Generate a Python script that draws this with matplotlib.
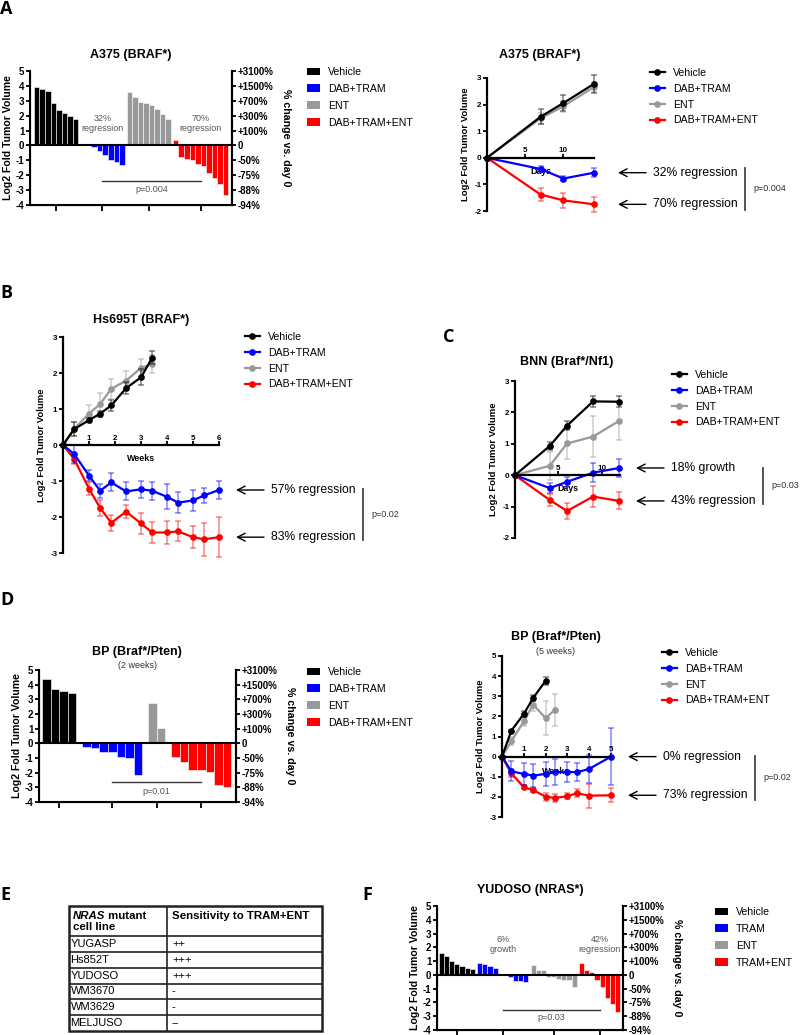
import numpy as np
import matplotlib
matplotlib.use("Agg")
import matplotlib.pyplot as plt
from matplotlib.patches import Patch, Rectangle
from matplotlib.lines import Line2D
from matplotlib.transforms import ScaledTranslation, blended_transform_factory

plt.rcParams['font.family'] = ['Liberation Sans', 'DejaVu Sans']
plt.rcParams['axes.unicode_minus'] = False

# ---------------- data ----------------
groups_braf = ['Vehicle', 'DAB+TRAM', 'ENT', 'DAB+TRAM+ENT']
groups_nras = ['Vehicle', 'TRAM', 'ENT', 'TRAM+ENT']
colors = ['#000000', '#0000ff', '#999999', '#ff0000']
pct_labels = ['-94%', '-88%', '-75%', '-50%', '0', '+100%', '+300%', '+700%', '+1500%', '+3100%']

# A: A375 waterfall (log2 fold change per tumor)
a_veh = [3.95, 3.8, 3.65, 2.85, 2.35, 2.15, 2.0, 1.75]
a_dt = [0.05, 0.0, -0.08, -0.36, -0.63, -0.96, -1.14, -1.3]
a_ent = [3.6, 3.25, 2.9, 2.85, 2.7, 2.45, 2.1, 1.75]
a_combo = [0.35, -0.76, -0.9, -0.98, -1.27, -1.39, -1.88, -2.21, -2.62, -3.36]

# A: A375 growth curves
a_days = [0, 7, 10, 14]
a_veh_mean = [0, 1.54, 2.06, 2.78]
a_veh_err = [0, 0.28, 0.3, 0.33]
a_dt_mean = [0, -0.42, -0.78, -0.56]
a_dt_err = [0, 0.1, 0.1, 0.18]
a_ent_mean = [0, 1.48, 1.94, 2.66]
a_ent_err = [0, 0.2, 0.2, 0.2]
a_combo_mean = [0, -1.38, -1.6, -1.75]
a_combo_err = [0, 0.25, 0.27, 0.28]

# B: Hs695T growth curves
b_days_ctrl = [0, 3, 7, 10, 13, 17, 21, 24]
b_days_tx = [0, 3, 7, 10, 13, 17, 21, 24, 28, 31, 35, 38, 42]
b_veh_mean = [0, 0.44, 0.69, 0.87, 1.1, 1.58, 1.88, 2.42]
b_veh_err = [0, 0.2, 0.05, 0.08, 0.15, 0.17, 0.22, 0.18]
b_ent_mean = [0, 0.45, 0.87, 1.14, 1.56, 1.79, 2.14, 2.25]
b_ent_err = [0, 0.2, 0.25, 0.3, 0.27, 0.27, 0.25, 0.25]
b_dt_mean = [0, -0.25, -0.85, -1.27, -1.04, -1.29, -1.23, -1.27, -1.44, -1.6, -1.54, -1.4, -1.25]
b_dt_err = [0, 0.25, 0.15, 0.2, 0.25, 0.25, 0.23, 0.25, 0.35, 0.3, 0.28, 0.2, 0.25]
b_combo_mean = [0, -0.39, -1.21, -1.75, -2.16, -1.85, -2.18, -2.43, -2.43, -2.4, -2.56, -2.62, -2.56]
b_combo_err = [0, 0.15, 0.17, 0.23, 0.22, 0.17, 0.28, 0.3, 0.32, 0.28, 0.3, 0.45, 0.55]

# C: BNN growth curves
c_days = [0, 4, 6, 9, 12]
c_veh_mean = [0, 0.93, 1.58, 2.35, 2.34]
c_veh_err = [0, 0.12, 0.15, 0.17, 0.17]
c_ent_mean = [0, 0.3, 1.01, 1.23, 1.73]
c_ent_err = [0, 0.45, 0.48, 0.65, 0.6]
c_dt_mean = [0, -0.41, -0.21, 0.08, 0.23]
c_dt_err = [0, 0.15, 0.15, 0.3, 0.28]
c_combo_mean = [0, -0.79, -1.14, -0.68, -0.82]
c_combo_err = [0, 0.2, 0.25, 0.33, 0.27]

# D: BP waterfall (2 weeks)
d_veh = [4.4, 3.7, 3.55, 3.45]
d_dt = [-0.28, -0.32, -0.58, -0.62, -0.95, -0.97, -2.18]
d_ent = [2.75, 1.05]
d_combo = [-0.95, -1.25, -1.8, -1.85, -1.95, -2.85, -3.0]

# D: BP growth curves (5 weeks)
d_days_ctrl = [0, 3, 7, 10, 14]
d_days_ent = [0, 3, 7, 10, 14, 17]
d_days_tx = [0, 3, 7, 10, 14, 17, 21, 24, 28, 35]
d_veh_mean = [0, 1.29, 2.12, 2.91, 3.77]
d_veh_err = [0, 0.05, 0.15, 0.15, 0.2]
d_ent_mean = [0, 0.76, 1.75, 2.58, 1.92, 2.32]
d_ent_err = [0, 0.2, 0.25, 0.3, 0.85, 0.8]
d_dt_mean = [0, -0.73, -0.86, -0.94, -0.86, -0.78, -0.75, -0.78, -0.61, 0.0]
d_dt_err = [0, 0.5, 0.55, 0.55, 0.6, 0.65, 0.5, 0.45, 0.7, 1.42]
d_combo_mean = [0, -0.83, -1.52, -1.66, -1.99, -2.05, -1.97, -1.82, -1.94, -1.92]
d_combo_err = [0, 0.2, 0.1, 0.1, 0.2, 0.2, 0.15, 0.2, 0.6, 0.35]

# E: table
cell_lines = ['YUGASP', 'Hs852T', 'YUDOSO', 'WM3670', 'WM3629', 'MELJUSO']
sensitivity = ['++', '+++', '+++', '-', '-', '--']

# F: YUDOSO waterfall
f_veh = [1.6, 1.38, 1.0, 0.8, 0.65, 0.5, 0.4]
f_tram = [0.85, 0.8, 0.68, 0.5, 0.0, -0.03, -0.17, -0.41, -0.43, -0.53]
f_ent = [0.75, 0.39, 0.39, -0.12, -0.15, -0.33, -0.35, -0.36, -0.85]
f_combo = [0.85, 0.36, 0.19, -0.34, -0.9, -1.67, -2.1, -2.66]

# ---------------- figure ----------------
W, H = 800, 1035
fig = plt.figure(figsize=(W / 100, H / 100), dpi=100)


def px_axes(x0, y0, x1, y1):
    return fig.add_axes([x0 / W, 1 - y1 / H, (x1 - x0) / W, (y1 - y0) / H])


def fig_text(x, y, s, **kw):
    fig.text(x / W, 1 - y / H, s, **kw)


def bold_ticks(ax):
    for t in ax.get_xticklabels() + ax.get_yticklabels():
        t.set_fontweight('bold')


def waterfall(rect, groups, start, gap, xmax):
    ax = px_axes(*rect)
    pos = start
    centers = []
    for vals, c in zip(groups, colors):
        x = pos + 0.5 + np.arange(len(vals))
        ax.bar(x, vals, width=1.0, color=c, edgecolor='white', linewidth=0.4)
        centers.append(x.mean())
        pos = x[-1] + 0.5 + gap
    ax.set_xlim(0, xmax)
    ax.set_ylim(-4, 5)
    ax.axhline(0, color='black', lw=1.5, zorder=3)
    ax.set_yticks(range(-4, 6))
    ax.set_xticks(centers)
    ax.spines['top'].set_visible(False)
    for s in ['left', 'right', 'bottom']:
        ax.spines[s].set_linewidth(1.5)
    ax.tick_params(axis='x', labelbottom=False, length=4, width=1.3)
    ax.tick_params(axis='y', length=3, width=1.3, labelsize=7, pad=1)
    ax.set_ylabel('Log2 Fold Tumor Volume', fontsize=7.6, fontweight='bold', labelpad=2)
    bold_ticks(ax)
    ax2 = ax.twinx()
    ax2.set_ylim(-4, 5)
    ax2.set_yticks(range(-4, 6))
    ax2.set_yticklabels(pct_labels)
    ax2.spines['top'].set_visible(False)
    ax2.spines['right'].set_linewidth(1.5)
    ax2.tick_params(axis='y', length=3, width=1.3, labelsize=7, pad=1)
    ax2.set_ylabel('% change vs. day 0', fontsize=7.7, fontweight='bold', rotation=270, labelpad=13)
    bold_ticks(ax2)
    return ax, centers


def growth(rect, series, xmax, ylim, xticks, xlabel, drop):
    ax = px_axes(*rect)
    for x, y, e, c in series:
        ax.errorbar(x, y, yerr=e, fmt='none', ecolor=c, alpha=0.45, elinewidth=1.2,
                    capsize=2.5, capthick=1.2, clip_on=False)
        ax.plot(x, y, '-o', color=c, lw=1.6, ms=3.8, clip_on=False)
    ax.set_xlim(0, xmax)
    ax.set_ylim(*ylim)
    ax.set_yticks(range(ylim[0], ylim[1] + 1))
    ax.set_xticks(xticks)
    for s in ['top', 'right']:
        ax.spines[s].set_visible(False)
    ax.spines['bottom'].set_position(('data', 0))
    ax.spines['left'].set_linewidth(1.6)
    ax.spines['bottom'].set_linewidth(1.6)
    ax.tick_params(axis='y', direction='out', length=3, width=1.3, labelsize=5.8, pad=1)
    ax.tick_params(axis='x', direction='in', length=3, width=1.3, labelsize=5.8, pad=-7.5)
    bold_ticks(ax)
    ax.set_ylabel('Log2 Fold Tumor Volume', fontsize=6.8, fontweight='bold', labelpad=3)
    ax.set_xlabel(xlabel, fontsize=6.4, fontweight='bold')
    tr = blended_transform_factory(ax.transAxes, ax.transData) + \
        ScaledTranslation(0, -drop / 100, fig.dpi_scale_trans)
    ax.xaxis.set_label_coords(0.5, 0, transform=tr)
    return ax


def side_notes(ax, notes, bracket, ptext, base):
    def tr(dx):
        return ax.get_yaxis_transform() + ScaledTranslation(dx / 100, 0, fig.dpi_scale_trans)
    for y, s in notes:
        ax.annotate('', xy=(1, y), xycoords=tr(base), xytext=(1, y), textcoords=tr(base + 28),
                    arrowprops=dict(arrowstyle='->,head_length=0.55,head_width=0.28',
                                    color='black', lw=1.0, shrinkA=0, shrinkB=0),
                    annotation_clip=False)
        ax.text(1, y, s, transform=tr(base + 35), fontsize=8.7, va='center', ha='left')
    ax.plot([1, 1], bracket, transform=tr(base + 127), color='#444444', lw=1.3, clip_on=False)
    ax.text(1, np.mean(bracket), ptext, transform=tr(base + 135), fontsize=6.5,
            va='center', ha='left', color='#333333')


def bar_legend(x, y, labels):
    handles = [Patch(facecolor=c, edgecolor='none', label=l) for l, c in zip(labels, colors)]
    fig.legend(handles=handles, loc='upper left', bbox_to_anchor=(x / W, 1 - y / H),
               frameon=False, fontsize=7.6, handlelength=1.23, handleheight=0.7,
               handletextpad=0.75, labelspacing=0.65, borderpad=0, borderaxespad=0)


def line_legend(x, y, labels):
    handles = [Line2D([0], [0], color=c, lw=1.6, marker='o', ms=3.8, label=l)
               for l, c in zip(labels, colors)]
    fig.legend(handles=handles, loc='upper left', bbox_to_anchor=(x / W, 1 - y / H),
               frameon=False, fontsize=7.6, handlelength=1.4, handletextpad=0.75,
               labelspacing=0.55, borderpad=0, borderaxespad=0)


def wf_notes(ax, centers, left, right, ytxt, py, ptext):
    ax.text(centers[1], ytxt, left, ha='center', va='center', fontsize=6.5, color='#555555',
            linespacing=1.15)
    ax.text(centers[3], ytxt, right, ha='center', va='center', fontsize=6.5, color='#555555',
            linespacing=1.15)
    ax.plot([centers[1], centers[3]], [py, py], color='#333333', lw=1.0)
    ax.text(np.mean([centers[1], centers[3]]), py - 0.55, ptext, ha='center', va='center',
            fontsize=6.5, color='#555555')


letter_kw = dict(fontsize=13, fontweight='bold', family=['Open Sans', 'DejaVu Sans'],
                 ha='left', va='baseline')
title_kw = dict(fontsize=9, fontweight='bold', ha='center', va='center')
sub_kw = dict(fontsize=6.5, ha='center', va='center', color='#333333')

# ---- A left ----
fig_text(0, 14, 'A', **letter_kw)
fig_text(131, 55, 'A375 (BRAF*)', **title_kw)
ax, cen = waterfall((30, 71, 232, 205), [a_veh, a_dt, a_ent, a_combo], 0.7, 0.35, 36.4)
wf_notes(ax, cen, '32%\nregression', '70%\nregression', 1.47, -2.4, 'p=0.004')
bar_legend(307, 67, groups_braf)

# ---- A right ----
fig_text(540, 55, 'A375 (BRAF*)', **title_kw)
ax = growth((487, 78, 594, 211),
            [(a_days, a_combo_mean, a_combo_err, colors[3]),
             (a_days, a_dt_mean, a_dt_err, colors[1]),
             (a_days, a_ent_mean, a_ent_err, colors[2]),
             (a_days, a_veh_mean, a_veh_err, colors[0])],
            14, (-2, 3), [5, 10], 'Days', 8.7)
side_notes(ax, [(a_dt_mean[-1], '32% regression'), (a_combo_mean[-1], '70% regression')],
           (-0.38, -1.95), 'p=0.004', 24)
line_legend(650, 68, groups_braf)

# ---- B ----
fig_text(0, 298, 'B', **letter_kw)
fig_text(141, 320, 'Hs695T (BRAF*)', **title_kw)
ax = growth((63, 337, 219, 553),
            [(np.array(b_days_tx) / 7, b_combo_mean, b_combo_err, colors[3]),
             (np.array(b_days_tx) / 7, b_dt_mean, b_dt_err, colors[1]),
             (np.array(b_days_ctrl) / 7, b_ent_mean, b_ent_err, colors[2]),
             (np.array(b_days_ctrl) / 7, b_veh_mean, b_veh_err, colors[0])],
            6, (-3, 3), [1, 2, 3, 4, 5, 6], 'Weeks', 8.7)
side_notes(ax, [(b_dt_mean[-1], '57% regression'), (b_combo_mean[-1], '83% regression')],
           (-1.22, -2.64), 'p=0.02', 17)
line_legend(245, 332, groups_braf)

# ---- C ----
fig_text(443, 342, 'C', **letter_kw)
fig_text(567, 362, 'BNN (Braf*/Nf1)', **title_kw)
ax = growth((515, 381, 620, 538),
            [(c_days, c_combo_mean, c_combo_err, colors[3]),
             (c_days, c_dt_mean, c_dt_err, colors[1]),
             (c_days, c_ent_mean, c_ent_err, colors[2]),
             (c_days, c_veh_mean, c_veh_err, colors[0])],
            12.1, (-2, 3), [5, 10], 'Days', 9)
side_notes(ax, [(c_dt_mean[-1], '18% growth'), (c_combo_mean[-1], '43% regression')],
           (0.24, -0.92), 'p=0.03', 16)
line_legend(672, 370, groups_braf)

# ---- D left ----
fig_text(0, 605, 'D', **letter_kw)
fig_text(137, 652, 'BP (Braf*/Pten)', **title_kw)
fig_text(137, 665, '(2 weeks)', **sub_kw)
ax, cen = waterfall((39, 670, 236, 802), [d_veh, d_dt, d_ent, d_combo], 0.35, 0.67, 22.9)
ax.plot([cen[1], cen[3]], [-2.66, -2.66], color='#333333', lw=1.0)
ax.text(np.mean([cen[1], cen[3]]), -3.3, 'p=0.01', ha='center', va='center', fontsize=6.5,
        color='#555555')
bar_legend(307, 667, groups_braf)

# ---- D right ----
fig_text(556, 637, 'BP (Braf*/Pten)', **title_kw)
fig_text(556, 651, '(5 weeks)', **sub_kw)
ax = growth((502, 656, 611, 817),
            [(np.array(d_days_tx) / 7, d_combo_mean, d_combo_err, colors[3]),
             (np.array(d_days_tx) / 7, d_dt_mean, d_dt_err, colors[1]),
             (np.array(d_days_ent) / 7, d_ent_mean, d_ent_err, colors[2]),
             (np.array(d_days_ctrl) / 7, d_veh_mean, d_veh_err, colors[0])],
            5, (-3, 5), [1, 2, 3, 4, 5], 'Weeks', 10.7)
side_notes(ax, [(d_dt_mean[-1], '0% regression'), (d_combo_mean[-1], '73% regression')],
           (0.05, -2.14), 'p=0.02', 17)
line_legend(662, 648, groups_braf)

# ---- E table ----
fig_text(0, 900, 'E', **letter_kw)
axe = px_axes(69, 906, 322, 1031)
row_h = [1.9] + [1] * len(cell_lines)
edges = np.concatenate([[0], np.cumsum(row_h)])
axe.set_xlim(0, 1)
axe.set_ylim(edges[-1], 0)
axe.axis('off')
split = 0.387
for y in edges[1:-1]:
    axe.plot([0, 1], [y, y], color='#222222', lw=1.2)
axe.plot([split, split], [0, edges[-1]], color='#222222', lw=1.2)
axe.add_patch(Rectangle((0, 0), 1, edges[-1], fill=False, edgecolor='#222222', lw=1.8,
                        clip_on=False))
t = axe.text(0.016, 0.62, 'NRAS', fontstyle='italic', fontweight='bold', fontsize=8.2,
             va='center', ha='left')
axe.annotate(' mutant', xy=(1, 0.5), xycoords=t, va='center', ha='left', fontweight='bold',
             fontsize=8.2)
axe.text(0.016, 1.33, 'cell line', fontweight='bold', fontsize=8.2, va='center', ha='left')
axe.text(split + 0.02, 0.62, 'Sensitivity to TRAM+ENT', fontweight='bold', fontsize=8.2,
         va='center', ha='left')
for i, (name, sens) in enumerate(zip(cell_lines, sensitivity)):
    yc = edges[i + 1] + 0.5
    axe.text(0.006, yc, name, fontsize=8, va='center', ha='left')
    axe.text(split + 0.02, yc, sens, fontsize=8, va='center', ha='left')

# ---- F ----
fig_text(362, 900, 'F', **letter_kw)
fig_text(530, 890, 'YUDOSO (NRAS*)', **title_kw)
ax, cen = waterfall((437, 906, 623, 1030), [f_veh, f_tram, f_ent, f_combo], 0.4, 0.5, 36.5)
wf_notes(ax, cen, '6%\ngrowth', '42%\nregression', 2.2, -2.55, 'p=0.03')
bar_legend(715, 907, groups_nras)

fig.savefig('out.png', dpi=100)
